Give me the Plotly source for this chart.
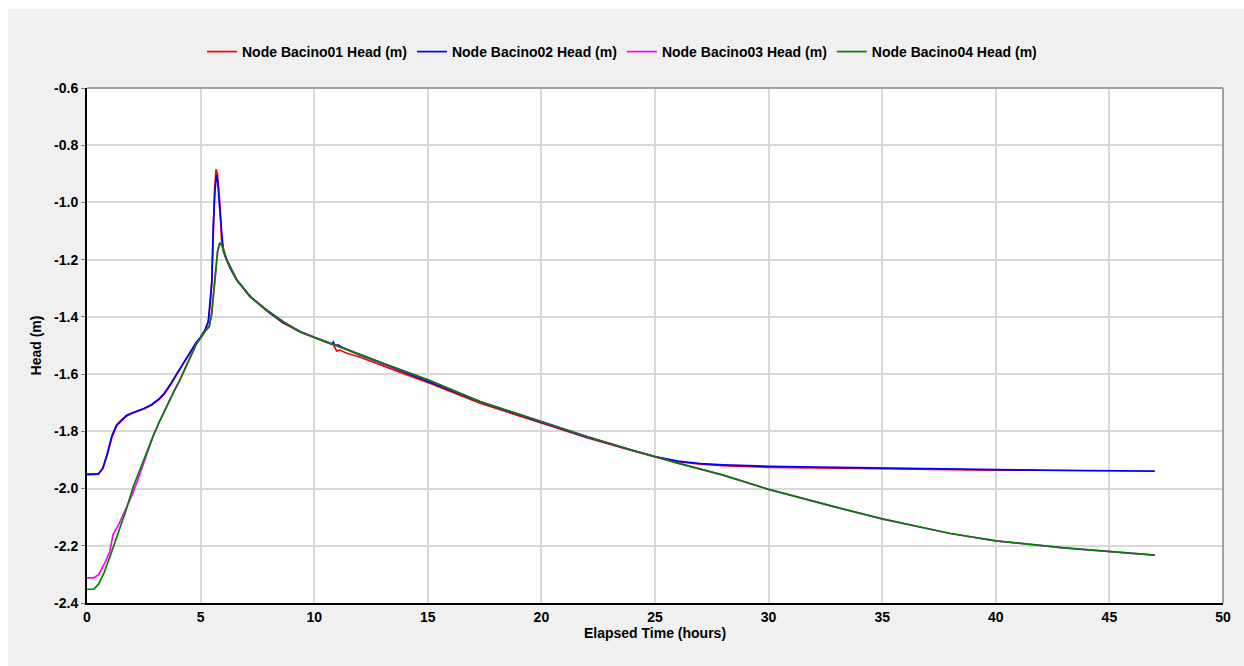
import plotly.graph_objects as go

# Elapsed time (hours) and head (m) for the four basin nodes
t_b1 = [0, 0.3, 0.5, 0.7, 0.9, 1.1, 1.3, 1.5, 1.75, 2.0, 2.5, 2.85, 3.15, 3.4, 3.7, 4.0, 4.3,
        4.6, 4.8, 5.0, 5.2, 5.34, 5.42, 5.49, 5.56, 5.62, 5.68, 5.74, 5.8, 5.86, 5.92, 6.0, 6.07,
        6.15, 6.3, 6.6, 7.2, 7.9, 8.6, 9.4, 10.0, 10.5, 10.84, 10.99, 11.13, 11.43, 12, 13, 14,
        15, 17.3, 20, 22, 24, 25, 26, 27, 28, 30, 33, 36, 39, 41.8]
head_b1 = [-1.949, -1.949, -1.948, -1.93, -1.88, -1.82, -1.781, -1.765, -1.746, -1.737, -1.722,
           -1.708, -1.69, -1.67, -1.635, -1.595, -1.555, -1.515, -1.492, -1.472, -1.447, -1.417,
           -1.36, -1.283, -1.073, -0.95, -0.884, -0.9, -0.96, -1.015, -1.131, -1.165, -1.184, -1.2,
           -1.23, -1.272, -1.33, -1.378, -1.42, -1.454, -1.474, -1.488, -1.497, -1.519, -1.516,
           -1.527, -1.54, -1.571, -1.6, -1.629, -1.702, -1.771, -1.822, -1.868, -1.889, -1.906,
           -1.915, -1.92, -1.926, -1.929, -1.933, -1.935, -1.936]

t_b2 = [0, 0.3, 0.5, 0.7, 0.9, 1.1, 1.3, 1.5, 1.75, 2.0, 2.5, 2.85, 3.15, 3.4, 3.7, 4.0, 4.3,
        4.6, 4.8, 5.0, 5.2, 5.34, 5.42, 5.49, 5.56, 5.63, 5.7, 5.76, 5.82, 5.88, 5.94, 6.0, 6.07,
        6.15, 6.3, 6.6, 7.2, 7.9, 8.6, 9.4, 10.0, 10.5, 10.78, 10.84, 10.92, 11.05, 11.2, 11.4,
        12, 13, 14, 15, 17.3, 20, 22, 24, 25, 26, 27, 28, 30, 33, 36, 40, 44, 47]
head_b2 = [-1.951, -1.951, -1.95, -1.928, -1.876, -1.815, -1.778, -1.762, -1.744, -1.735, -1.72,
           -1.706, -1.688, -1.667, -1.632, -1.592, -1.552, -1.512, -1.49, -1.47, -1.445, -1.415,
           -1.355, -1.28, -1.08, -0.96, -0.904, -0.93, -1.0, -1.06, -1.14, -1.17, -1.186, -1.2,
           -1.23, -1.272, -1.33, -1.377, -1.418, -1.452, -1.472, -1.487, -1.495, -1.488, -1.5,
           -1.498, -1.505, -1.512, -1.533, -1.563, -1.594, -1.623, -1.697, -1.768, -1.82, -1.866,
           -1.888, -1.904, -1.913, -1.917, -1.922, -1.926, -1.93, -1.934, -1.937, -1.939]

t_b3 = [0, 0.3, 0.5, 0.8, 1.0, 1.15, 1.4, 1.7, 2.0, 2.3, 2.6, 2.92, 3.2, 3.5, 3.8, 4.1, 4.4, 4.6,
        4.8, 5.0, 5.2, 5.38, 5.49, 5.63, 5.75, 5.85, 5.95, 6.15, 6.59, 7.17, 7.91, 8.64, 9.37, 10.0,
        11, 12, 13, 14, 15, 17.3, 20, 22, 24, 25, 26, 28, 30, 33, 35, 38, 40, 43, 45, 47]
head_b3 = [-2.312, -2.312, -2.302, -2.258, -2.22, -2.16, -2.125, -2.075, -2.02, -1.955, -1.885,
           -1.815, -1.764, -1.713, -1.665, -1.618, -1.565, -1.53, -1.497, -1.474, -1.45, -1.434,
           -1.388, -1.27, -1.17, -1.141, -1.152, -1.2, -1.27, -1.329, -1.376, -1.417, -1.452,
           -1.471, -1.5, -1.531, -1.561, -1.591, -1.62, -1.696, -1.767, -1.818, -1.866, -1.889,
           -1.911, -1.953, -2.003, -2.066, -2.106, -2.157, -2.183, -2.207, -2.22, -2.233]

t_b4 = [0, 0.3, 0.5, 0.75, 1.01, 1.38, 1.7, 2.04, 2.5, 2.92, 3.2, 3.5, 3.8, 4.1, 4.4, 4.6, 4.8,
        5.0, 5.2, 5.38, 5.49, 5.63, 5.75, 5.85, 5.95, 6.15, 6.59, 7.17, 7.91, 8.64, 9.37, 10.0, 11,
        12, 13, 14, 15, 17.3, 20, 22, 24, 25, 26, 28, 30, 33, 35, 38, 40, 43, 45, 47]
head_b4 = [-2.352, -2.352, -2.335, -2.295, -2.238, -2.157, -2.08, -1.993, -1.898, -1.815, -1.764,
           -1.713, -1.665, -1.618, -1.565, -1.53, -1.497, -1.474, -1.45, -1.434, -1.388, -1.27,
           -1.17, -1.141, -1.152, -1.2, -1.27, -1.329, -1.376, -1.417, -1.452, -1.471, -1.5,
           -1.531, -1.561, -1.591, -1.62, -1.696, -1.767, -1.818, -1.866, -1.889, -1.911, -1.953,
           -2.003, -2.066, -2.106, -2.157, -2.183, -2.207, -2.22, -2.233]

series = [
    ("Node Bacino01 Head (m)", t_b1, head_b1, "#ff0000"),
    ("Node Bacino02 Head (m)", t_b2, head_b2, "#0000ff"),
    ("Node Bacino03 Head (m)", t_b3, head_b3, "#ff00ff"),
    ("Node Bacino04 Head (m)", t_b4, head_b4, "#008000"),
]

x_ticks = list(range(0, 51, 5))
y_ticks = [-2.4, -2.2, -2.0, -1.8, -1.6, -1.4, -1.2, -1.0, -0.8, -0.6]

W, H = 1244, 666
ML, MR, MT, MB = 87, 21, 88, 63
PW, PH = W - ML - MR, H - MT - MB

def px_x(p):
    return (p - ML) / PW

def px_y(p):
    return (H - MB - p) / PH

fig = go.Figure()
for name, t, h, col in series:
    fig.add_trace(go.Scatter(x=t, y=h, mode="lines", name=name,
                             line=dict(color=col, width=1.7)))

FS = 14
font = dict(family="Liberation Sans, Arial, sans-serif", size=FS, color="#000000")

fig.update_layout(
    width=W, height=H,
    margin=dict(l=ML, r=MR, t=MT, b=MB),
    paper_bgcolor="#f0f0f0",
    plot_bgcolor="#ffffff",
    font=font,
    showlegend=True,
    legend=dict(orientation="h", xref="container", yref="container",
                x=0.5, xanchor="center", y=1 - 52 / H, yanchor="middle",
                bgcolor="rgba(0,0,0,0)", font=dict(size=FS, weight="bold"),
                itemwidth=30, tracegroupgap=0),
    xaxis=dict(range=[0, 50], tickvals=x_ticks, ticktext=[str(v) for v in x_ticks],
               showgrid=True, gridcolor="#d9d9d9", gridwidth=1.5,
               showline=True, linecolor="#000000", linewidth=2,
               ticks="",
               tickfont=dict(size=FS, weight="bold"), zeroline=False,
               title=dict(text="<b>Elapsed Time (hours)</b>", standoff=0,
                          font=dict(size=FS))),
    yaxis=dict(range=[-2.4, -0.6], tickvals=y_ticks,
               ticktext=[f"{v:.1f}" for v in y_ticks],
               showgrid=True, gridcolor="#d9d9d9", gridwidth=1.5,
               showline=True, linecolor="#000000", linewidth=2,
               ticks="outside", ticklen=4, tickcolor="#808080",
               tickfont=dict(size=FS, weight="bold"), zeroline=False,
               title=dict(text="<b>Head (m)</b>", standoff=9, font=dict(size=FS))),
    shapes=[
        # white strips along the top and left page edges
        dict(type="rect", xref="paper", yref="paper", x0=px_x(0), x1=px_x(W),
             y0=px_y(9), y1=px_y(0), fillcolor="#ffffff", line=dict(width=0), layer="below"),
        dict(type="rect", xref="paper", yref="paper", x0=px_x(0), x1=px_x(8),
             y0=px_y(H), y1=px_y(0), fillcolor="#ffffff", line=dict(width=0), layer="below"),
        # grey top and right frame edges
        dict(type="line", xref="paper", yref="paper", x0=0, x1=1, y0=1, y1=1,
             line=dict(color="#a0a0a0", width=2), layer="above"),
        dict(type="line", xref="paper", yref="paper", x0=1, x1=1, y0=0, y1=1,
             line=dict(color="#a0a0a0", width=2), layer="above"),
    ],
)

fig.write_html("out.html")
